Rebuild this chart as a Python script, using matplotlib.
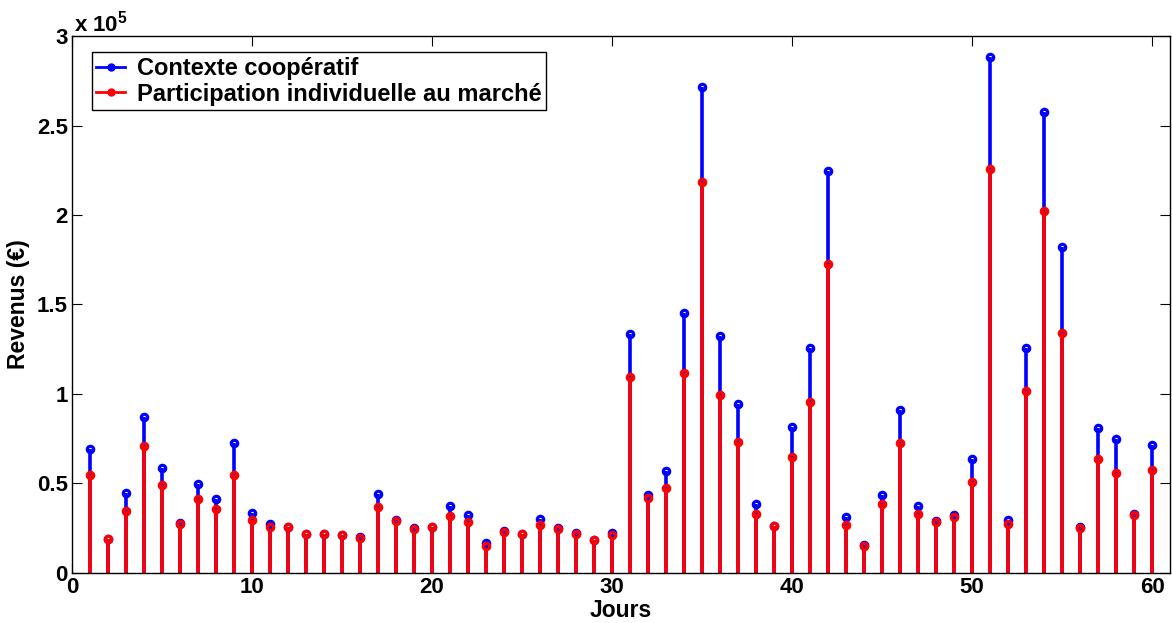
import numpy as np
import matplotlib
matplotlib.use('Agg')
import matplotlib.pyplot as plt
from matplotlib.lines import Line2D
from matplotlib.legend_handler import HandlerLine2D
from matplotlib.ticker import FuncFormatter, MultipleLocator

plt.rcParams['font.family'] = ['Liberation Sans', 'DejaVu Sans']
plt.rcParams['font.weight'] = 'bold'
plt.rcParams['mathtext.fontset'] = 'custom'
plt.rcParams['mathtext.rm'] = 'Liberation Sans:bold'
plt.rcParams['mathtext.bf'] = 'Liberation Sans:bold'

# ========== données (revenus journaliers en euros) ==========
jours = np.arange(1, 61)

revenu_coop = [
    69300, 19000, 44500, 87100, 58800, 27800, 49700, 41200, 72600, 33300,
    27200, 25700, 21800, 22000, 21200, 20300, 44300, 29600, 25000, 25900,
    37400, 32200, 16600, 23500, 22000, 30400, 25000, 22200, 18600, 22200,
    133500, 43400, 57000, 145100, 271700, 132600, 94600, 38300, 26200, 81700,
    125600, 224500, 31200, 15400, 43500, 90800, 37300, 28800, 32400, 63700,
    288000, 29600, 125900, 257800, 182000, 25500, 81200, 74700, 32900, 71400,
]

revenu_indiv = [
    54900, 18800, 34800, 70900, 49000, 27200, 41200, 35800, 54700, 29400,
    25900, 25500, 21600, 21800, 21000, 19600, 36600, 29000, 24400, 25700,
    31700, 28300, 15100, 23100, 21800, 26600, 24600, 21800, 18300, 21400,
    109600, 42000, 47600, 111900, 218500, 99200, 73400, 33100, 26000, 64900,
    95800, 172800, 26800, 14800, 38700, 72500, 33100, 28400, 31200, 50800,
    225500, 27500, 101600, 202400, 134100, 25100, 63700, 55700, 32500, 57300,
]

labels = ['Contexte coopératif', 'Participation individuelle au marché']
couleurs = ['#0000ff', '#ff0000']

FS = 16


class StemLegendHandler(HandlerLine2D):
    # trait avec le point au bout, comme une tige
    def get_xdata(self, legend, xdescent, ydescent, width, height, fontsize):
        return [-xdescent, -xdescent + width], [-xdescent + width]


fig = plt.figure(figsize=(11.72, 6.23), dpi=100)
ax = fig.add_axes([0.0614, 0.0803, 0.9369, 0.8619])

for valeurs, c in zip([revenu_coop, revenu_indiv], couleurs):
    ax.vlines(jours, 0, valeurs, colors=c, linewidth=2.6, zorder=2)
    ax.plot(jours, valeurs, 'o', color=c, markerfacecolor='none',
            markersize=4.6, markeredgewidth=2.3, zorder=3)

ax.set_xlim(0, 61)
ax.set_ylim(0, 3e5)
ax.xaxis.set_major_locator(MultipleLocator(10))
ax.yaxis.set_major_locator(MultipleLocator(0.5e5))
ax.yaxis.set_major_formatter(FuncFormatter(lambda v, pos: f'{v / 1e5:g}'))

ax.tick_params(direction='in', top=True, right=True, length=7, width=0.8,
               labelsize=FS, pad=3)
for sp in ax.spines.values():
    sp.set_linewidth(1.0)

ax.set_xlabel('Jours', fontsize=FS + 0.5, fontweight='bold', labelpad=0.5)
ax.set_ylabel('Revenus (€)', fontsize=FS + 0.5, fontweight='bold', labelpad=5)
ax.text(0.002, 1.0, r'x 10$^{\mathbf{5}}$', transform=ax.transAxes,
        fontsize=FS, fontweight='bold', ha='left', va='bottom')

handles = [Line2D([], [], color=c, linewidth=2, marker='o', markersize=5)
           for c in couleurs]
leg = ax.legend(handles, labels, loc='upper left', bbox_to_anchor=(0.018, 0.97),
                fontsize=FS + 1, frameon=True, fancybox=False, framealpha=1,
                edgecolor='black', borderpad=0.2, labelspacing=0.12,
                handlelength=1.2, handletextpad=0.5, borderaxespad=0,
                handler_map={Line2D: StemLegendHandler()})
leg.get_frame().set_linewidth(1.0)

plt.savefig('out.png', dpi=100)
plt.close()
